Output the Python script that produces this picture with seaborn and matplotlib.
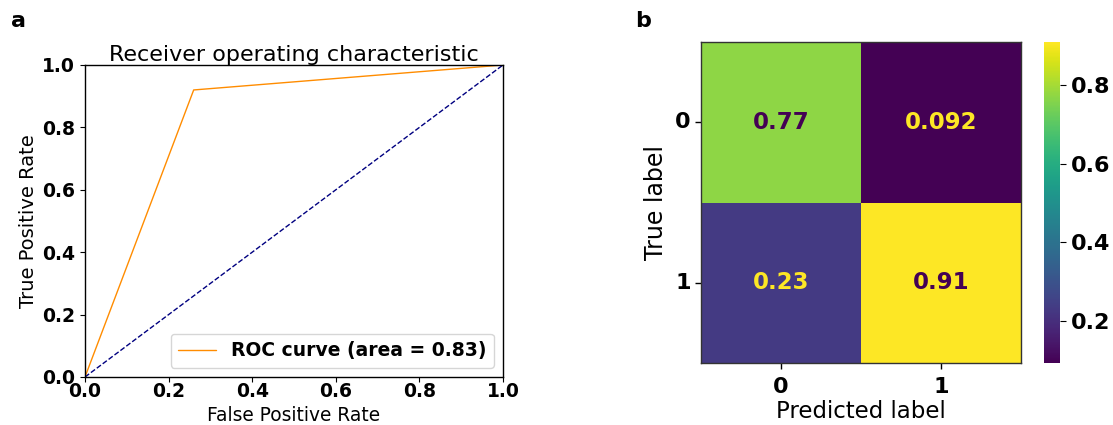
import numpy as np
import pandas as pd
import matplotlib
matplotlib.use("Agg")
import matplotlib.pyplot as plt
import seaborn as sns

# ---- data ----
fpr = [0.0, 0.26, 1.0]
tpr = [0.0, 0.92, 1.0]
chance = [0.0, 1.0]
roc_auc = 0.83
class_labels = ["0", "1"]
cm_row0 = [0.77, 0.092]
cm_row1 = [0.23, 0.91]
cbar_ticks = [0.2, 0.4, 0.6, 0.8]
x_ticks = [0.0, 0.2, 0.4, 0.6, 0.8, 1.0]

sns.set_style("ticks")
plt.rcParams['font.family'] = ['DejaVu Sans']
for k in ["text.color", "axes.labelcolor", "xtick.color", "ytick.color", "axes.edgecolor"]:
    plt.rcParams[k] = "black"

fig = plt.figure(figsize=(11.13, 4.25), dpi=100)

# ---- panel a: ROC ----
ax1 = fig.add_axes([85/1113, 1-377/425, 418/1113, 312/425])
roc_df = pd.DataFrame({"fpr": fpr, "tpr": tpr})
sns.lineplot(data=roc_df, x="fpr", y="tpr", ax=ax1, color="darkorange", lw=1,
             label="ROC curve (area = %0.2f)" % roc_auc, estimator=None, sort=False)
ax1.plot(chance, chance, color="navy", lw=1, linestyle="--")
ax1.set_xlim(0.0, 1.0)
ax1.set_ylim(0.0, 1.0)
ax1.set_xticks(x_ticks)
ax1.set_yticks(x_ticks)
ax1.set_xticklabels(["%.1f" % t for t in x_ticks], fontsize=13.5, fontweight="bold")
ax1.set_yticklabels(["%.1f" % t for t in x_ticks], fontsize=13.5, fontweight="bold")
ax1.tick_params(axis="x", pad=0)
ax1.set_xlabel("False Positive Rate", fontsize=13.4, labelpad=4)
ax1.set_ylabel("True Positive Rate", fontsize=14, labelpad=3)
ax1.set_title("Receiver operating characteristic", fontsize=16, pad=3)
leg = ax1.legend(loc="lower right", prop={"size": 13.5, "weight": "bold"})
for sp in ax1.spines.values():
    sp.set_linewidth(1.0)
fig.text(11/1113, 1-27/425, "a", fontsize=16, fontweight="bold")

# ---- panel b: confusion matrix ----
ax2 = fig.add_axes([701/1113, 1-363/425, 320/1113, 321/425])
cax = fig.add_axes([1044/1113, 1-363/425, 16/1113, 321/425])
cm = pd.DataFrame([cm_row0, cm_row1], index=class_labels, columns=class_labels)
sns.heatmap(cm, ax=ax2, cbar_ax=cax, cmap="viridis", annot=True, fmt=".2g",
            annot_kws={"fontsize": 16.5, "fontweight": "bold"}, square=False,
            cbar_kws={"ticks": cbar_ticks})
cmap = plt.get_cmap("viridis")
vmin, vmax = min(cm_row0 + cm_row1), max(cm_row0 + cm_row1)
thresh = (vmin + vmax) / 2
vals = cm.values.flatten()
for txt, v in zip(ax2.texts, vals):
    txt.set_color(cmap(1.0) if v < thresh else cmap(0.0))
for sp in ax2.spines.values():
    sp.set_visible(True)
    sp.set_linewidth(1.0)
    sp.set_color("#333333")
ax2.set_xticklabels(class_labels, fontsize=16, fontweight="bold", rotation=0)
ax2.set_yticklabels(class_labels, fontsize=16, fontweight="bold", rotation=0)
ax2.tick_params(axis="both", length=4, width=1)
ax2.tick_params(axis="x", pad=6)
ax2.set_xlabel("Predicted label", fontsize=16.5, labelpad=2)
ax2.set_ylabel("True label", fontsize=17, labelpad=5)
cax.tick_params(labelsize=16, length=4)
for lab in cax.get_yticklabels():
    lab.set_fontweight("bold")
fig.text(635/1113, 1-27/425, "b", fontsize=16, fontweight="bold")

fig.savefig("out.png", dpi=100)
